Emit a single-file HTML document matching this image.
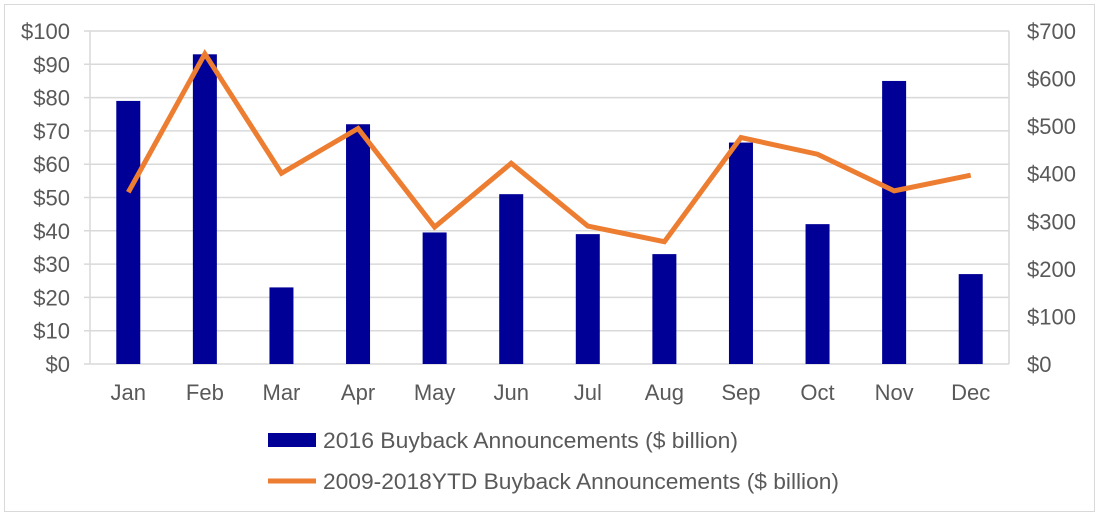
<!DOCTYPE html>
<html><head><meta charset="utf-8"><style>
body{margin:0;background:#fff;}
svg{display:block;font-family:"Liberation Sans",Arial,sans-serif;}
</style></head><body>
<svg id="c" width="1099" height="516">
<rect x="4.5" y="4.5" width="1090" height="507" fill="#fff" stroke="#d9d9d9"/>
</svg>
<script>
const categories=["Jan","Feb","Mar","Apr","May","Jun","Jul","Aug","Sep","Oct","Nov","Dec"];
const bars2016=[79,93,23,72,39.5,51,39,33,66.5,42,85,27];
const line0918=[361,652,401,495,288,422,290,257,476,441,364,397];
const leftTicks=[0,10,20,30,40,50,60,70,80,90,100];
const rightTicks=[0,100,200,300,400,500,600,700];
const svg=document.getElementById('c');
const NS='http://www.w3.org/2000/svg';
const L=90,R=1009,T=31,B=364;
const yL=v=>B-(v/100)*(B-T);
const yR=v=>B-(v/700)*(B-T);
const bw=(R-L)/categories.length;
const xC=i=>L+bw*(i+0.5);
function mk(tag,attrs,txt){const e=document.createElementNS(NS,tag);for(const k in attrs)e.setAttribute(k,attrs[k]);if(txt!==undefined)e.textContent=txt;svg.appendChild(e);return e;}
leftTicks.forEach(v=>{
 const g=mk('line',{x1:L-6,x2:R,y1:yL(v),y2:yL(v),stroke:'#d9d9d9','stroke-width':1.5});
 
 
 const t=mk('text',{x:70,y:yL(v)+8,'text-anchor':'end','font-size':22,fill:'#595959'},'$'+v);
 
 
});
rightTicks.forEach(v=>{
 const t=mk('text',{x:1027,y:yR(v)+8,'font-size':22,fill:'#595959'},'$'+v);
 
 
});
const ax=mk('line',{x1:L,x2:L,y1:T,y2:B,stroke:'#d9d9d9','stroke-width':1.5});


const ax2=mk('line',{x1:R,x2:R,y1:T,y2:B,stroke:'#d9d9d9','stroke-width':1.5});


categories.forEach((c,i)=>{
 const b=mk('rect',{x:xC(i)-12,y:yL(bars2016[i]),width:24,height:B-yL(bars2016[i]),fill:'#000096'});
 
 
 const t=mk('text',{x:xC(i),y:400,'text-anchor':'middle','font-size':22,fill:'#595959'},c);
 
 
});
const pl=mk('polyline',{points:line0918.map((v,i)=>xC(i)+','+yR(v)).join(' '),fill:'none',stroke:'#ed7d31','stroke-width':5,'stroke-linejoin':'miter'});


const lb=mk('rect',{x:268,y:433,width:48,height:14,fill:'#000096'});


const lt=mk('text',{x:323,y:448,'font-size':22,fill:'#595959',textLength:415,lengthAdjust:'spacingAndGlyphs'},'2016 Buyback Announcements ($ billion)');


const ll=mk('line',{x1:268,x2:316,y1:481,y2:481,stroke:'#ed7d31','stroke-width':5});


const lt2=mk('text',{x:323,y:489,'font-size':22,fill:'#595959',textLength:516,lengthAdjust:'spacingAndGlyphs'},'2009-2018YTD Buyback Announcements ($ billion)');


</script>
</body></html>
